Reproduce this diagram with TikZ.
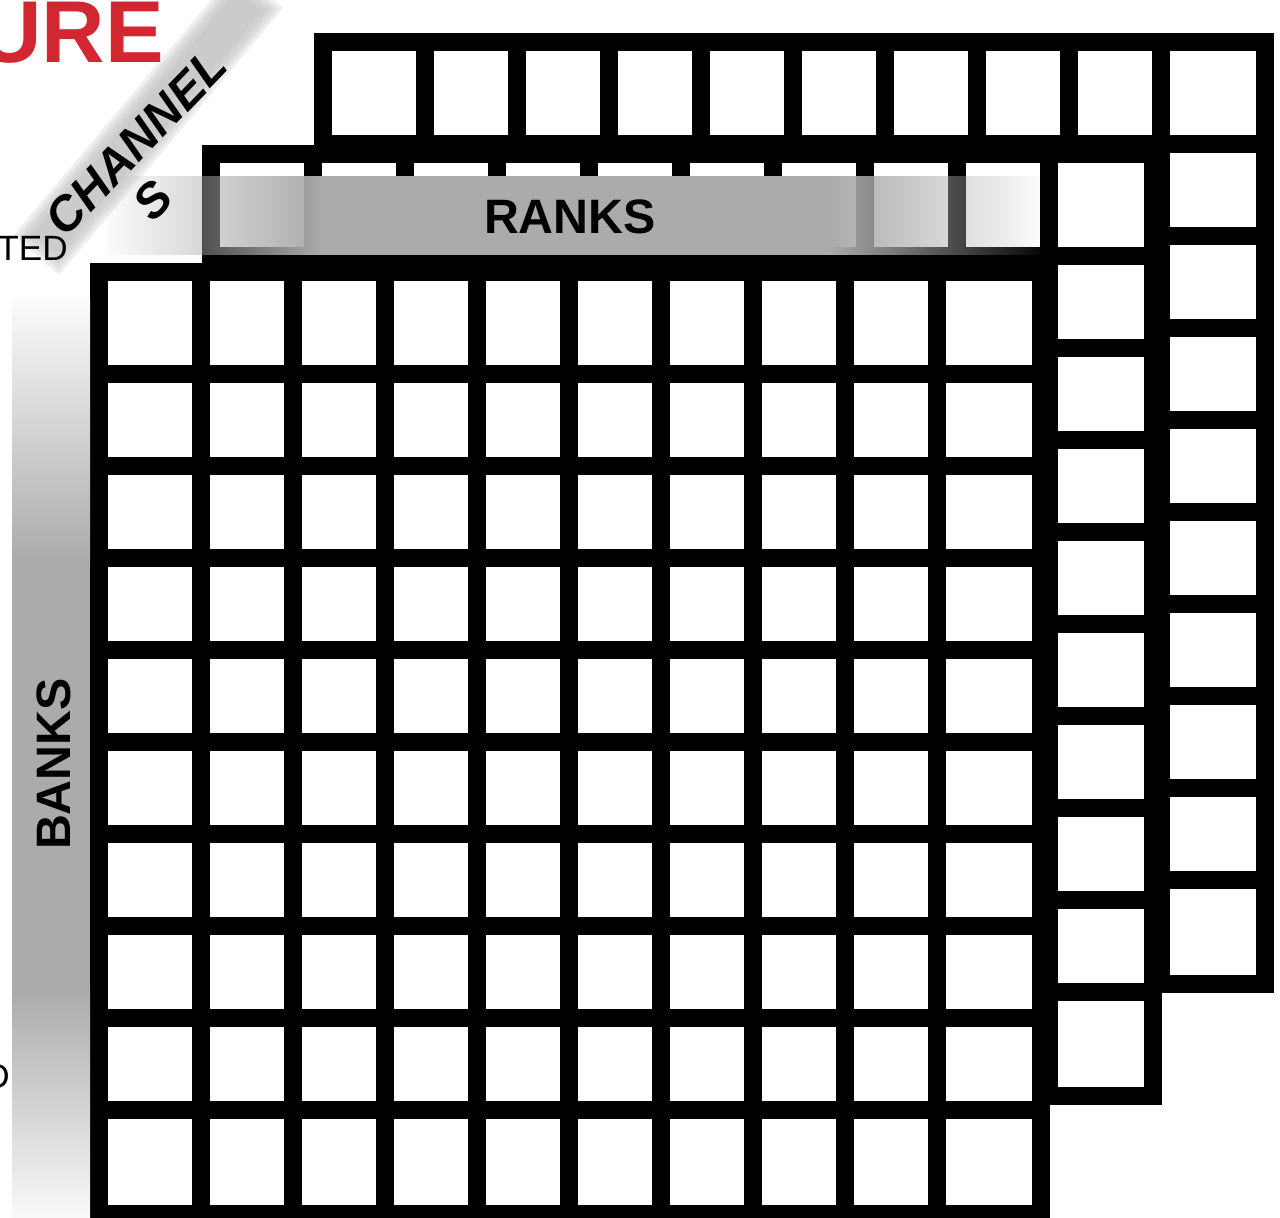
\documentclass[tikz,border=0pt]{standalone}
\usepackage{fontspec}
\setmainfont{Liberation Sans}
\usetikzlibrary{fadings}
\definecolor{urered}{RGB}{210,38,48}
\definecolor{bargray}{RGB}{171,171,171}
\definecolor{bandgray}{RGB}{190,190,190}
\tikzfading[name=rankfadeleft, left color=transparent!95, right color=transparent!0]
\tikzfading[name=rankfaderight, left color=transparent!0, right color=transparent!95]
\newcommand{\memgrid}[2]{%
  \fill[black] (#1,#2) rectangle ++(960,960);
  \foreach \xa/\xb in {18/102,120/194,212/286,304/378,396/470,488/562,580/654,672/746,764/838,856/942}
    \foreach \ya/\yb in {18/102,120/194,212/286,304/378,396/470,488/562,580/654,672/746,764/838,856/942}
      \fill[white] (#1+\xa,#2+\ya) rectangle (#1+\xb,#2+\yb);
}

\begin{document}
\begin{tikzpicture}[x=0.02cm, y=-0.02cm,
  lbl/.style={inner sep=0pt, font=\fontsize{27.5}{30}\selectfont\bfseries},
  chantext/.style={inner sep=0pt, rotate=46, font=\fontsize{27.5}{30}\selectfont\bfseries\itshape},
  sidetext/.style={inner sep=0pt, font=\fontsize{20}{22}\selectfont}]
\useasboundingbox (0,0) rectangle (1280,1217);
\clip (0,0) rectangle (1280,1217);
\memgrid{314}{33}
\memgrid{202}{145}
\fill[bargray, path fading=rankfadeleft] (107,176) rectangle (321,255);
\fill[bargray] (320,176) rectangle (831,255);
\fill[bargray, path fading=rankfaderight] (830,176) rectangle (1040,255);
\node[lbl, anchor=base] (rankslabel) at (570,233) {RANKS};
\memgrid{90}{263}
\shade[top color=white!95!bargray, bottom color=bargray] (12,300) rectangle (90,561);
\fill[bargray] (12,560) rectangle (90,991);
\shade[top color=bargray, bottom color=white!93!bargray] (12,990) rectangle (90,1217);
\node[lbl, anchor=base, rotate=90] (bankslabel) at (70,764) {BANKS};
\foreach \w/\l in {30/174,26.5/170,23/166,19.5/162,16/158}
  \fill[bandgray, fill opacity=0.28, rotate around={50:(148,122)}] (148-\l,122-\w) rectangle (148+\l,122+\w);
\node[chantext] (chanlabel) at (136,142) {CHANNEL};
\node[chantext] (chansuffix) at (153,200) {S};
\node[inner sep=0pt, anchor=base east, text=urered, font=\fontsize{50}{54}\selectfont\bfseries] (urelabel) at (164,62) {URE};
\node[sidetext, anchor=base east] (tedlabel) at (68,260) {TED};
\node[sidetext, anchor=base east] (dlabel) at (10,1088) {D};
\end{tikzpicture}
\end{document}
